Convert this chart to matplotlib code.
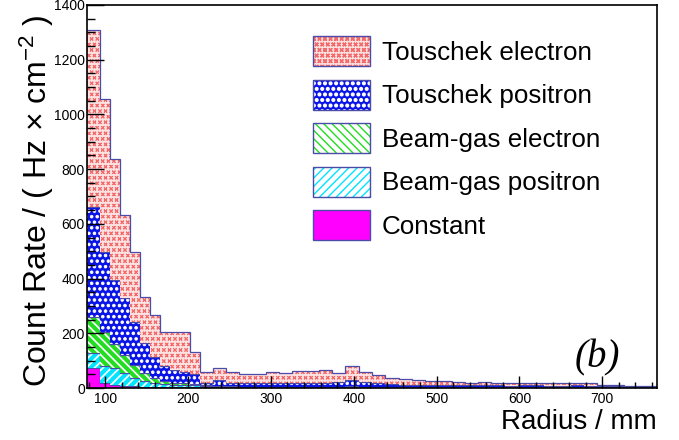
import numpy as np
import matplotlib
matplotlib.use("Agg")
import matplotlib.pyplot as plt
import matplotlib.hatch as mhatch
from matplotlib.path import Path as MPath
from matplotlib.patches import Patch
from matplotlib.legend_handler import HandlerTuple
from matplotlib.ticker import MultipleLocator

plt.rcParams["font.family"] = "Liberation Sans"
plt.rcParams["mathtext.fontset"] = "custom"
plt.rcParams["mathtext.rm"] = "Liberation Sans"
plt.rcParams["mathtext.it"] = "Liberation Sans:italic"

# ---- data (bin edges in mm, rates in Hz/cm^2) ----
edges = [78, 94, 106, 118, 130, 142, 154, 166, 178, 190, 202, 214,
         230, 246, 262, 278, 294, 310, 326, 342, 358, 374, 390, 406,
         422, 438, 454, 470, 486, 502, 518, 534, 550, 566, 582, 598,
         614, 630, 646, 662, 678, 694, 710, 726, 742, 758, 774]
touschek_e = [647, 557, 442, 304, 258, 169, 152, 126, 141, 148, 81,
              39, 44, 37, 34, 33, 42, 38, 44, 44, 47, 35, 50, 38, 30, 23, 20,
              17, 14, 14, 12, 10, 9, 8, 10, 10, 9, 9, 8, 8, 8, 5, 4, 3, 3, 2]
touschek_p = [402, 293, 235, 208, 155, 110, 80, 55, 45, 40, 37,
              7, 22, 14, 15, 14, 15, 14, 15, 15, 16, 17, 23, 19, 15, 12, 9,
              8, 9, 7, 7, 7, 9, 7, 5, 7, 7, 6, 6, 7, 6, 4, 3, 2, 2, 1]
beamgas_e = [132, 125, 88, 65, 50, 30, 17, 10, 8, 6, 5,
             3, 3, 2, 1, 2, 1, 1, 2, 1, 1, 2, 2, 1, 1, 1, 1,
             1, 1, 1, 1, 1, 1, 1, 1, 1, 1, 1, 1, 1, 1, 1, 1, 1, 1, 1]
beamgas_p = [56, 62, 60, 47, 29, 20, 13, 10, 7, 7, 5,
             3, 2, 2, 1, 1, 1, 2, 1, 1, 1, 1, 2, 1, 1, 1, 1,
             1, 1, 1, 1, 1, 1, 1, 1, 1, 1, 1, 1, 1, 1, 1, 1, 1, 1, 1]
constant = [73, 18, 12, 8, 6, 5, 5, 5, 5, 5, 5,
            5, 3, 2, 1, 1, 1, 1, 1, 1, 1, 1, 2, 1, 1, 1, 1,
            1, 1, 1, 1, 1, 1, 1, 1, 1, 1, 1, 1, 1, 1, 1, 1, 1, 1, 1]
labels = ["Touschek electron", "Touschek positron", "Beam-gas electron",
          "Beam-gas positron", "Constant"]
assert len(edges) == len(constant) + 1


# ROOT-like fill patterns: small crosses (swapped in for '*') and bigger dots ('.')
class XMarks(mhatch.Shapes):
    size = 0.22
    filled = False

    def __init__(self, hatch, density):
        self.num_rows = hatch.count("*") * density
        self.shape_vertices = np.array([[-1, -1], [1, 1], [-1, 1], [1, -1]], float)
        self.shape_codes = np.array([MPath.MOVETO, MPath.LINETO, MPath.MOVETO, MPath.LINETO])
        super().__init__(hatch, density)


class Dots(mhatch.SmallFilledCircles):
    size = 0.24


swap = {mhatch.Stars: XMarks, mhatch.SmallFilledCircles: Dots}
mhatch._hatch_types = [swap.get(h, h) for h in mhatch._hatch_types]

LINE = "#4b4ba8"
# bottom -> top of the stack: (values, face, hatch colour, hatch, hatch lw)
layers = [
    (constant, "#ff00ff", "#ff00ff", None, 1.0),
    (beamgas_p, "white", "#00e5ff", "////", 3.0),
    (beamgas_e, "white", "#22dd22", "\\\\\\\\", 3.0),
    (touschek_p, "#0a14e6", "white", "...", 0.6),
    (touschek_e, "#fde0e0", "#f26a6a", "***", 0.7),
]


def set_hlw(artist, lw):
    if hasattr(artist, "set_hatch_linewidth"):
        artist.set_hatch_linewidth(lw)


fig = plt.figure(figsize=(6.79, 4.40), dpi=100)
ax = fig.add_axes([87 / 679, 1 - 388 / 440, 570 / 679, 383 / 440])

base = np.zeros(len(constant))
handles = {}
for (vals, fc, hc, hatch, hlw), lab in zip(layers, labels[::-1]):
    top = base + np.array(vals, float)
    with plt.rc_context({"hatch.linewidth": hlw}):
        sp = ax.stairs(top, edges, baseline=base, fill=True, facecolor=fc,
                       edgecolor=hc, hatch=hatch, linewidth=0)
        set_hlw(sp, hlw)
        h = Patch(facecolor=fc, edgecolor=hc, hatch=hatch, linewidth=0)
        set_hlw(h, hlw)
    ax.stairs(top, edges, baseline=None, color=LINE, linewidth=0.9)
    handles[lab] = (h, Patch(fill=False, edgecolor=LINE, linewidth=1.0))
    base = top

ax.set_xlim(78, 766)
ax.set_ylim(0, 1400)
ax.xaxis.set_major_locator(MultipleLocator(100))
ax.xaxis.set_minor_locator(MultipleLocator(20))
ax.yaxis.set_major_locator(MultipleLocator(200))
ax.yaxis.set_minor_locator(MultipleLocator(50))
ax.tick_params(which="both", direction="in", top=False, right=False,
               labelsize=10, width=1.0, color="black")
ax.tick_params(axis="y", which="major", length=12, pad=1.5)
ax.tick_params(axis="y", which="minor", length=6)
ax.tick_params(axis="x", which="major", length=9, pad=3)
ax.tick_params(axis="x", which="minor", length=4.5)
for s in ax.spines.values():
    s.set_linewidth(1.2)

ax.set_xlabel("Radius / mm", fontsize=20, loc="right", labelpad=2)
ax.set_ylabel("Count Rate / ( Hz $\\times$ cm$^{-2}$ )", fontsize=23)
ax.yaxis.set_label_coords(-0.054, 0.49)

ax.text(0.896, 0.078, "(b)", transform=ax.transAxes, ha="center", va="center",
        fontsize=28, family="Liberation Serif", style="italic")

ax.legend([handles[l] for l in labels], labels,
          handler_map={tuple: HandlerTuple(ndivide=1, pad=0)},
          loc="upper left", bbox_to_anchor=(313 / 679, 1 - 36 / 440),
          bbox_transform=fig.transFigure, frameon=False, fontsize=18.7,
          handlelength=2.2, handleheight=1.4, labelspacing=0.52,
          handletextpad=0.45, borderpad=0, borderaxespad=0)

fig.savefig("out.png", dpi=100)
